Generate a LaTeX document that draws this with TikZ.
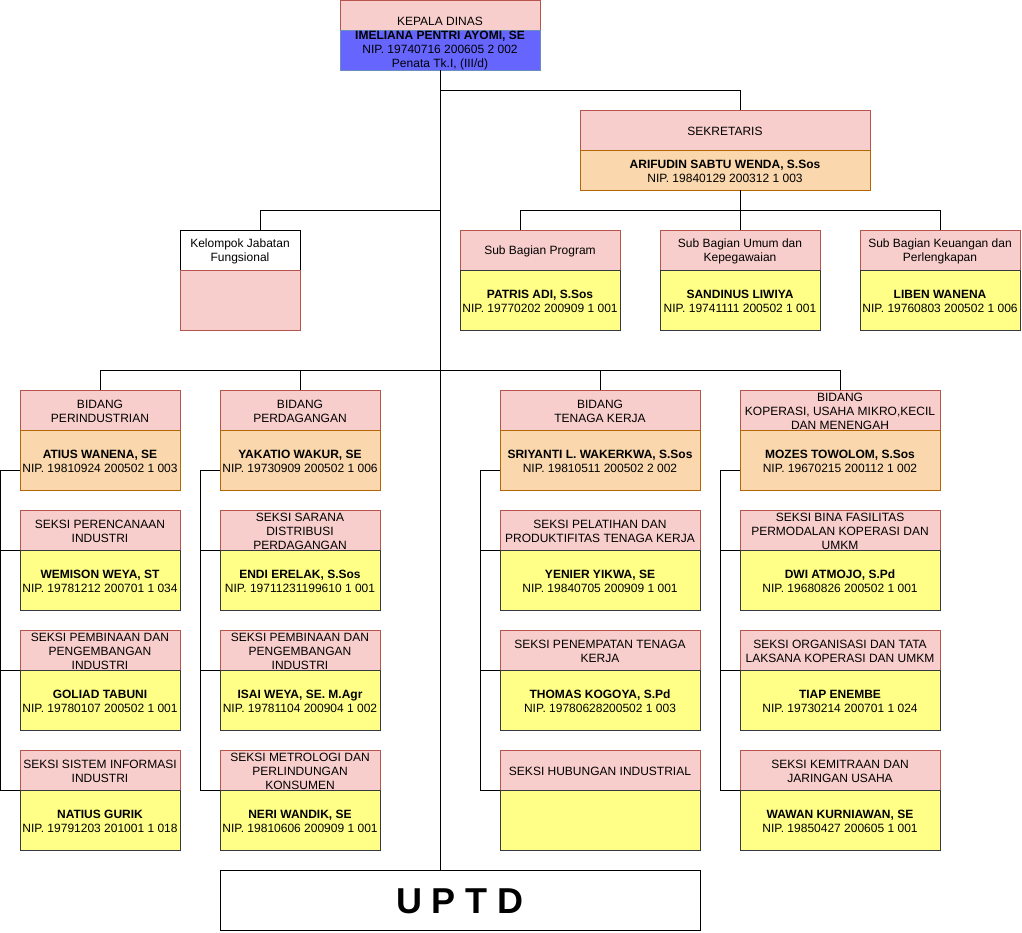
\documentclass[tikz,border=0pt]{standalone}
\usepackage{fontspec}
\setmainfont{Liberation Sans}
\usetikzlibrary{calc}

\definecolor{pinkfill}{HTML}{F8CECC}
\definecolor{pinkline}{HTML}{B85450}
\definecolor{orgfill}{HTML}{FAD7AC}
\definecolor{orgline}{HTML}{B46504}
\definecolor{ylwfill}{HTML}{FFFF88}
\definecolor{ylwline}{HTML}{36393D}
\definecolor{bluefill}{HTML}{6666FF}
\definecolor{blueline}{HTML}{6C8EBF}

\newcommand\pjb[2]{\textbf{#1}\\NIP. #2}

\begin{document}
\begin{tikzpicture}[x=1pt,y=-1pt,
            box/.style={
              draw, line width=1pt, fill=white,
              anchor=north west, inner sep=0pt, outer sep=0pt,
              minimum width=160, minimum height=40
            },
            hdr/.style={box, fill=pinkfill, draw=pinkline},
            orgbox/.style={box, fill=orgfill, draw=orgline, minimum height=60},
            ylwbox/.style={box, fill=ylwfill, draw=ylwline, minimum height=60},
            every label/.style={
              font=\fontsize{12}{14}\selectfont,
              align=center, inner sep=0pt, yshift=-1pt
            },
            conn/.style={draw, line width=1pt}
        ]
\useasboundingbox (0,0) rectangle (1022,932);

% kepala dinas
\node[hdr, minimum width=200, minimum height=30, label={[yshift=-5pt]center:KEPALA DINAS}] (kadis) at (340,0) {};
\node[box, fill=bluefill, draw=blueline, minimum width=200,
      label={center:{\pjb{IMELIANA PENTRI AYOMI, SE}{19740716 200605 2 002}\\Penata Tk.I, (III/d)}}] (kadisb) at (340,30) {};

% sekretaris
\node[hdr, minimum width=290, label={center:SEKRETARIS}] (sek) at (580,110) {};
\node[orgbox, minimum width=290, minimum height=40,
      label={center:{\pjb{ARIFUDIN SABTU WENDA, S.Sos}{19840129 200312 1 003}}}] (sekb) at (580,150) {};

\foreach \i/\x/\h/\n in {1/460/{Sub Bagian Program}/{\pjb{PATRIS ADI, S.Sos}{19770202 200909 1 001}},
    2/660/{Sub Bagian Umum dan\\Kepegawaian}/{\pjb{SANDINUS LIWIYA}{19741111 200502 1 001}},
    3/860/{Sub Bagian Keuangan dan\\Perlengkapan}/{\pjb{LIBEN WANENA}{19760803 200502 1 006}}}
{
    \node[hdr, label={center:\h}] (sub\i) at (\x,230) {};
    \node[ylwbox, label={center:\n}] (subb\i) at (\x,270) {};
}

% jabatan fungsional
\node[box, minimum width=120, label={center:{Kelompok Jabatan\\Fungsional}}] (kjf) at (180,230) {};
\node[hdr, minimum width=120, minimum height=60] (kjfb) at (180,270) {};

% bidang
\foreach \col/\x/\w/\h/\n in {1/20/160/{BIDANG\\PERINDUSTRIAN}/{\pjb{ATIUS WANENA, SE}{19810924 200502 1 003}},
    2/220/160/{BIDANG\\PERDAGANGAN}/{\pjb{YAKATIO WAKUR, SE}{19730909 200502 1 006}},
    3/500/200/{BIDANG\\TENAGA KERJA}/{\pjb{SRIYANTI L. WAKERKWA, S.Sos}{19810511 200502 2 002}},
    4/740/200/{BIDANG\\KOPERASI, USAHA MIKRO,KECIL\\DAN MENENGAH}/{\pjb{MOZES TOWOLOM, S.Sos}{19670215 200112 1 002}}}
{
    \node[hdr, minimum width=\w, label={center:\h}] (bid\col) at (\x,390) {};
    \node[orgbox, minimum width=\w, label={center:\n}] (bidb\col) at (\x,430) {};
}

% seksi
\foreach \col/\k/\x/\w/\h/\n in {1/1/20/160/{SEKSI PERENCANAAN\\INDUSTRI}/{\pjb{WEMISON WEYA, ST}{19781212 200701 1 034}},
    1/2/20/160/{SEKSI PEMBINAAN DAN\\PENGEMBANGAN\\INDUSTRI}/{\pjb{GOLIAD TABUNI}{19780107 200502 1 001}},
    1/3/20/160/{SEKSI SISTEM INFORMASI\\INDUSTRI}/{\pjb{NATIUS GURIK}{19791203 201001 1 018}},
    2/1/220/160/{SEKSI SARANA\\DISTRIBUSI\\PERDAGANGAN}/{\pjb{ENDI ERELAK, S.Sos}{19711231199610 1 001}},
    2/2/220/160/{SEKSI PEMBINAAN DAN\\PENGEMBANGAN\\INDUSTRI}/{\pjb{ISAI WEYA, SE. M.Agr}{19781104 200904 1 002}},
    2/3/220/160/{SEKSI METROLOGI DAN\\PERLINDUNGAN\\KONSUMEN}/{\pjb{NERI WANDIK, SE}{19810606 200909 1 001}},
    3/1/500/200/{SEKSI PELATIHAN DAN\\PRODUKTIFITAS TENAGA KERJA}/{\pjb{YENIER YIKWA, SE}{19840705 200909 1 001}},
    3/2/500/200/{SEKSI PENEMPATAN TENAGA\\KERJA}/{\pjb{THOMAS KOGOYA, S.Pd}{19780628200502 1 003}},
    3/3/500/200/{SEKSI HUBUNGAN INDUSTRIAL}/{},
    4/1/740/200/{SEKSI BINA FASILITAS\\PERMODALAN KOPERASI DAN\\UMKM}/{\pjb{DWI ATMOJO, S.Pd}{19680826 200502 1 001}},
    4/2/740/200/{SEKSI ORGANISASI DAN TATA\\LAKSANA KOPERASI DAN UMKM}/{\pjb{TIAP ENEMBE}{19730214 200701 1 024}},
    4/3/740/200/{SEKSI KEMITRAAN DAN\\JARINGAN USAHA}/{\pjb{WAWAN KURNIAWAN, SE}{19850427 200605 1 001}}}
{
    \node[hdr, minimum width=\w, label={center:\h}] (sk\col-\k) at (\x,{390+120*\k}) {};
    \node[ylwbox, minimum width=\w, label={center:\n}] (skb\col-\k) at (\x,{430+120*\k}) {};
}

% uptd
\node[box, minimum width=480, minimum height=60,
      label={center:{\fontsize{36}{40}\selectfont\bfseries U P T D}}] (uptd) at (220,870) {};

% connectors
\draw[conn] (kadisb.south) -- (kadisb.south |- uptd.north);
\coordinate (j1) at (440,90);
\draw[conn] (j1) -| ([xshift=15pt]sek.north);
\draw[conn] ([xshift=15pt]sekb.south) -- ++(0,20) coordinate (j2);
\draw[conn] (j2) -| ([xshift=-20pt]sub1.north);
\draw[conn] (j2) -- (sub2.north);
\draw[conn] (j2) -| (sub3.north);
\draw[conn] (kadisb.south |- j2) -| ([xshift=20pt]kjf.north);
\coordinate (j3) at (440,370);
\foreach \col in {1,...,4}
{
    \draw[conn] (j3) -| (bid\col.north);
    \draw[conn] ([yshift=-10pt]bidb\col.west) -- ++(-20,0) |- (sk\col-3.south west);
    \foreach \k in {1,2}
        \draw[conn] (sk\col-\k.south west) -- ++(-20,0);
}

\end{tikzpicture}
\end{document}
